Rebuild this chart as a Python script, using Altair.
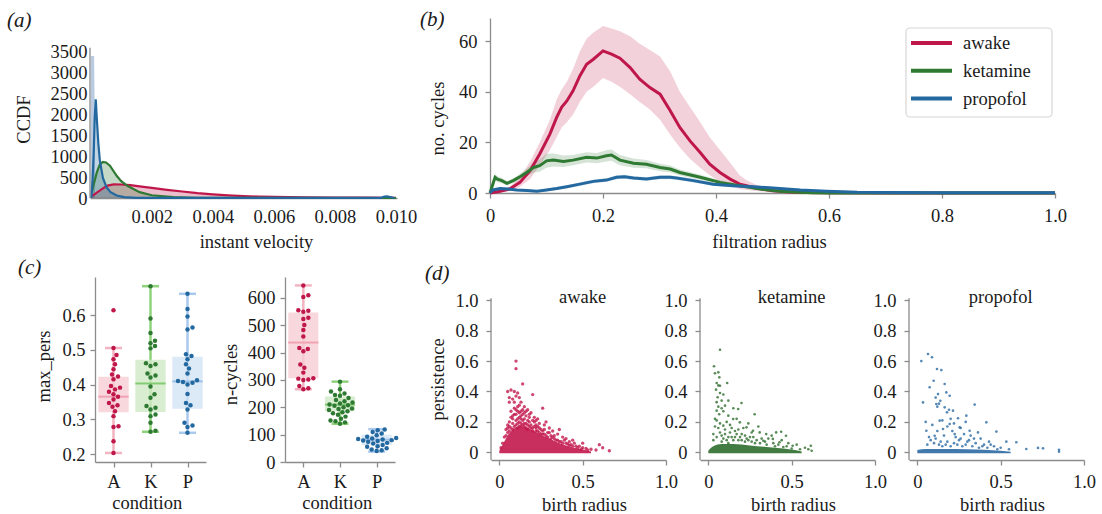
import json
import altair as alt
import pandas as pd

SERIF = "Liberation Serif, Times New Roman, Times, DejaVu Serif, serif"
SERIES = ["awake", "ketamine", "propofol"]
COLORS = ["#c0174b", "#2f7a32", "#2369a0"]
AXC = "#8c8c8c"
TXT = "#1a1a1a"
FS = 18.5

# ---------------- panel (a): instant velocity distributions ----------------
a_red_x = [0.00003, 0.0002, 0.0004, 0.00055, 0.00075, 0.001, 0.0013, 0.0016, 0.002, 0.0025, 0.003,
           0.0035, 0.004, 0.0045, 0.005, 0.0055, 0.006, 0.007, 0.008, 0.009, 0.01]
a_red_y = [40, 130, 230, 295, 325, 322, 305, 278, 240, 195, 155, 115, 85, 62, 45, 34, 25, 16, 10, 7, 5]
a_green_x = [0.00003, 0.0001, 0.0002, 0.0003, 0.0004, 0.0005, 0.00063, 0.00085, 0.001, 0.0012, 0.0016,
             0.002, 0.0027, 0.0035, 0.0045, 0.01]
a_green_y = [130, 330, 610, 800, 860, 845, 770, 530, 400, 290, 140, 65, 20, 6, 2, 0]
a_blue_x = [0.00002, 0.00006, 0.0001, 0.00013, 0.000165, 0.0002, 0.00025, 0.0003, 0.0004, 0.00052,
            0.00065, 0.00085, 0.0011, 0.0015, 0.0095, 0.00962, 0.0097, 0.00978, 0.00995]
a_blue_y = [0, 400, 1120, 1900, 2350, 1900, 1300, 890, 480, 250, 140, 60, 20, 3, 2, 35, 40, 30, 0]
a_spike_x = [0, 0.000004, 0.00011, 0.00014]
a_spike_y = [0, 3380, 3380, 1600]
a_xticks = [0.002, 0.004, 0.006, 0.008, 0.010]
a_yticks = [0, 500, 1000, 1500, 2000, 2500, 3000, 3500]

# ---------------- panel (b): number of cycles vs filtration radius ----------------
b_red_x = [0, 0.018, 0.035, 0.053, 0.071, 0.088, 0.106, 0.118, 0.127, 0.136, 0.147, 0.159, 0.171, 0.183,
           0.2, 0.215, 0.23, 0.248, 0.265, 0.283, 0.301, 0.319, 0.336, 0.354, 0.372, 0.389, 0.407, 0.425,
           0.442, 0.454, 0.47, 0.5, 0.53, 0.56, 0.6, 0.7, 0.8, 0.9, 1.0]
b_red_y = [0, 0.7, 1.6, 4.2, 8.8, 15.4, 23.3, 29.9, 34, 36.4, 40.4, 46.3, 50.9, 52.9, 56.2, 54.9, 53.3,
           49.6, 45, 41.7, 39.1, 32.5, 25.9, 20.6, 16, 11.4, 8.1, 5.5, 3.5, 2.9, 2.0, 0.9, 0.4, 0.15, 0.05,
           0, 0, 0, 0]
b_red_lo = [0, 0.3, 0.8, 2.5, 5.5, 11, 17, 22, 26, 28, 31, 36, 40, 42, 45.5, 44, 42, 39, 36, 33, 29, 23,
            18, 13.5, 10, 7, 4.5, 2.8, 1.6, 1.2, 0.8, 0.3, 0.1, 0, 0, 0, 0, 0, 0]
b_red_hi = [0, 1.2, 2.6, 6.2, 12.5, 20, 29, 37, 41, 44, 49, 56, 61, 63.5, 66, 65, 64, 62, 59, 56.5, 54,
            48, 40, 34, 28, 22, 17, 12, 7, 5, 3.4, 1.6, 0.8, 0.3, 0.1, 0, 0, 0, 0]
b_green_x = [0, 0.009, 0.013, 0.021, 0.03, 0.041, 0.053, 0.065, 0.077, 0.088, 0.1, 0.112, 0.13, 0.147,
             0.171, 0.189, 0.206, 0.215, 0.23, 0.254, 0.277, 0.301, 0.319, 0.336, 0.372, 0.407, 0.442,
             0.478, 0.513, 0.549, 0.57, 0.6, 0.7, 0.8, 0.9, 1.0]
b_green_y = [0, 6.2, 5.5, 4.9, 3.8, 4.9, 6.4, 8.1, 10.1, 10.8, 12.7, 13, 12.5, 13, 14.1, 13.8, 14.7, 15,
             13, 11.8, 11.4, 10.1, 9.5, 8.1, 6.2, 4.2, 2.9, 1.6, 0.7, 0.3, 0.1, 0, 0, 0, 0, 0]
b_green_lo = [0, 5.0, 4.3, 3.9, 3.0, 4.0, 5.3, 6.6, 8.0, 8.4, 10.0, 10.5, 10.3, 11.0, 12.1, 11.8, 12.5,
              12.8, 11.0, 10.0, 9.8, 8.6, 8.1, 6.9, 5.2, 3.4, 2.3, 1.2, 0.5, 0.2, 0.05, 0, 0, 0, 0, 0]
b_green_hi = [0, 7.4, 6.7, 5.9, 4.6, 5.8, 7.5, 9.6, 12.2, 13.2, 15.5, 15.6, 14.8, 15.0, 16.1, 15.8, 16.9,
              17.2, 15.0, 13.6, 13.0, 11.6, 10.9, 9.3, 7.2, 5.0, 3.5, 2.0, 0.9, 0.4, 0.15, 0.05, 0, 0, 0, 0]
b_blue_x = [0, 0.005, 0.018, 0.03, 0.047, 0.065, 0.083, 0.1, 0.118, 0.136, 0.159, 0.183, 0.206, 0.224,
            0.238, 0.254, 0.277, 0.301, 0.319, 0.33, 0.36, 0.395, 0.43, 0.466, 0.507, 0.549, 0.596, 0.65,
            0.7, 0.8, 0.9, 1.0]
b_blue_y = [0, 1.2, 1.8, 1.6, 1.2, 1.0, 0.7, 1.2, 1.8, 2.5, 3.5, 4.6, 5.1, 6.2, 6.4, 5.9, 5.5, 6.2, 6.2,
            5.9, 4.9, 3.5, 2.9, 2.5, 1.9, 1.2, 0.7, 0.3, 0.2, 0.1, 0.1, 0.1]
b_blue_lo = [0, 0.7, 1.2, 1.0, 0.7, 0.5, 0.3, 0.7, 1.2, 1.9, 2.8, 3.9, 4.4, 5.4, 5.6, 5.2, 4.8, 5.4, 5.4,
             5.2, 4.2, 2.9, 2.3, 2.0, 1.5, 0.8, 0.4, 0.1, 0.05, 0, 0, 0]
b_blue_hi = [0, 1.7, 2.4, 2.2, 1.7, 1.5, 1.1, 1.7, 2.4, 3.1, 4.2, 5.3, 5.8, 7.0, 7.2, 6.6, 6.2, 7.0, 7.0,
             6.6, 5.6, 4.1, 3.5, 3.0, 2.3, 1.6, 1.0, 0.5, 0.35, 0.2, 0.2, 0.2]
b_xticks = [0, 0.2, 0.4, 0.6, 0.8, 1.0]
b_yticks = [0, 20, 40, 60]

# ---------------- panel (c): box plots ----------------
c_cond = ["A", "K", "P"]
mp_A = [0.614, 0.505, 0.485, 0.473, 0.458, 0.444, 0.429, 0.423, 0.415, 0.396, 0.391, 0.386, 0.379,
        0.372, 0.365, 0.357, 0.347, 0.34, 0.336, 0.323, 0.309, 0.28, 0.278, 0.237, 0.203]
mp_K = [0.683, 0.59, 0.548, 0.526, 0.519, 0.511, 0.504, 0.461, 0.458, 0.453, 0.432, 0.426, 0.42, 0.394,
        0.372, 0.362, 0.338, 0.333, 0.328, 0.314, 0.309, 0.29, 0.267, 0.264]
mp_P = [0.661, 0.617, 0.596, 0.564, 0.558, 0.487, 0.482, 0.473, 0.458, 0.446, 0.432, 0.412, 0.41, 0.407,
        0.405, 0.4, 0.373, 0.347, 0.34, 0.328, 0.29, 0.282, 0.278, 0.261]
mp_q1 = [0.320, 0.321, 0.330]
mp_med = [0.365, 0.403, 0.409]
mp_q3 = [0.422, 0.471, 0.480]
mp_wlo = [0.203, 0.264, 0.261]
mp_whi = [0.505, 0.683, 0.661]
mp_yticks = [0.2, 0.3, 0.4, 0.5, 0.6]

nc_A = [646, 610, 604, 555, 553, 550, 528, 523, 501, 483, 459, 417, 413, 405, 357, 345, 327, 306, 305,
        302, 300, 278, 270, 266]
nc_K = [294, 266, 258, 251, 245, 242, 234, 227, 222, 218, 214, 210, 208, 206, 200, 196, 194, 190, 186,
        182, 178, 173, 166, 158, 152, 149, 145, 140]
nc_P = [119, 116, 110, 104, 98, 92, 88, 86, 84, 82, 80, 79, 77, 74, 70, 68, 62, 58, 56, 50, 46, 43, 40]
nc_q1 = [306, 186, 62]
nc_med = [437, 210, 82]
nc_q3 = [547, 240, 100]
nc_wlo = [266, 140, 38]
nc_whi = [646, 294, 120]
nc_yticks = [0, 100, 200, 300, 400, 500, 600]

# ---------------- panel (d): persistence diagrams ----------------
d_xticks = [0, 0.5, 1.0]
d_yticks = [0, 0.2, 0.4, 0.6, 0.8, 1.0]
awake_core_x = [0, 0.02, 0.05, 0.08, 0.12, 0.16, 0.2, 0.25, 0.3, 0.35, 0.4, 0.45, 0.5, 0.55]
awake_core_y = [0.012, 0.05, 0.11, 0.15, 0.17, 0.165, 0.145, 0.115, 0.09, 0.065, 0.045, 0.03, 0.018, 0.006]
ket_core_x = [0, 0.03, 0.08, 0.15, 0.25, 0.35, 0.45, 0.52, 0.56]
ket_core_y = [0.012, 0.04, 0.055, 0.055, 0.045, 0.035, 0.025, 0.015, 0.005]
pro_core_x = [0, 0.05, 0.15, 0.3, 0.4, 0.5, 0.56]
pro_core_y = [0.015, 0.022, 0.022, 0.02, 0.016, 0.01, 0.004]

awake_pts = [(0.10, 0.60), (0.10, 0.55), (0.14, 0.45), (0.05, 0.40), (0.07, 0.41), (0.09, 0.40), (0.11, 0.39),
             (0.10, 0.37), (0.12, 0.36), (0.08, 0.35), (0.06, 0.33), (0.13, 0.33), (0.20, 0.38), (0.26, 0.29),
             (0.15, 0.30), (0.17, 0.28), (0.11, 0.30), (0.09, 0.29), (0.07, 0.27), (0.13, 0.27), (0.19, 0.26),
             (0.16, 0.24), (0.21, 0.23), (0.23, 0.22), (0.10, 0.25), (0.12, 0.23), (0.08, 0.22), (0.06, 0.20),
             (0.14, 0.21), (0.18, 0.20), (0.24, 0.19), (0.27, 0.18), (0.30, 0.16), (0.32, 0.14), (0.35, 0.12),
             (0.38, 0.10), (0.40, 0.09), (0.42, 0.07), (0.45, 0.06), (0.48, 0.04), (0.50, 0.03), (0.52, 0.025),
             (0.55, 0.02), (0.58, 0.015), (0.60, 0.05), (0.62, 0.03), (0.66, 0.01), (0.50, 0.06), (0.44, 0.08),
             (0.36, 0.15), (0.28, 0.20), (0.22, 0.18), (0.20, 0.16), (0.25, 0.15), (0.30, 0.13), (0.33, 0.11),
             (0.16, 0.19), (0.12, 0.20), (0.10, 0.21), (0.08, 0.19), (0.04, 0.15), (0.03, 0.10), (0.05, 0.13),
             (0.07, 0.16), (0.13, 0.17), (0.15, 0.17), (0.19, 0.16), (0.22, 0.14), (0.26, 0.12), (0.29, 0.10),
             (0.34, 0.08), (0.37, 0.07), (0.41, 0.055), (0.46, 0.04), (0.02, 0.06), (0.01, 0.03), (0.11, 0.16),
             (0.17, 0.18), (0.14, 0.25), (0.09, 0.33), (0.06, 0.36), (0.12, 0.31), (0.09, 0.25), (0.11, 0.27),
             (0.13, 0.22), (0.15, 0.22), (0.18, 0.23), (0.07, 0.23), (0.05, 0.18), (0.17, 0.21), (0.21, 0.20),
             (0.23, 0.17), (0.27, 0.15), (0.31, 0.11), (0.39, 0.08), (0.43, 0.05),
             (0.05, 0.16), (0.06, 0.14), (0.08, 0.15), (0.09, 0.17), (0.10, 0.18), (0.11, 0.19), (0.12, 0.17),
             (0.13, 0.19), (0.14, 0.18), (0.15, 0.19), (0.16, 0.16), (0.17, 0.15), (0.18, 0.17), (0.19, 0.18),
             (0.20, 0.14), (0.21, 0.17), (0.22, 0.16), (0.23, 0.14), (0.24, 0.13), (0.25, 0.12), (0.26, 0.14),
             (0.27, 0.12), (0.28, 0.11), (0.29, 0.13), (0.31, 0.09), (0.32, 0.10), (0.33, 0.09), (0.35, 0.08),
             (0.36, 0.07), (0.38, 0.06), (0.40, 0.06), (0.42, 0.045), (0.44, 0.04), (0.47, 0.03), (0.49, 0.02),
             (0.53, 0.015), (0.04, 0.11), (0.06, 0.17), (0.08, 0.24), (0.10, 0.28), (0.12, 0.26), (0.14, 0.28),
             (0.16, 0.27), (0.18, 0.25), (0.20, 0.21), (0.22, 0.21), (0.24, 0.16), (0.11, 0.22), (0.13, 0.24),
             (0.15, 0.26)]
ket_pts = [(0.07, 0.675), (0.034, 0.566), (0.06, 0.526), (0.066, 0.493), (0.05, 0.456), (0.07, 0.438),
           (0.046, 0.412), (0.113, 0.456), (0.056, 0.362), (0.08, 0.34), (0.1, 0.307), (0.199, 0.324),
           (0.179, 0.285), (0.278, 0.25), (0.05, 0.274), (0.12, 0.241), (0.149, 0.219), (0.189, 0.197),
           (0.09, 0.175), (0.229, 0.164), (0.268, 0.142), (0.308, 0.131), (0.347, 0.12), (0.407, 0.131),
           (0.437, 0.135), (0.466, 0.109), (0.387, 0.088), (0.33, 0.076), (0.427, 0.066), (0.506, 0.043),
           (0.615, 0.043), (0.6, 0.02), (0.04, 0.52), (0.06, 0.44), (0.07, 0.39), (0.05, 0.33), (0.08, 0.29),
           (0.065, 0.25), (0.04, 0.22), (0.09, 0.27), (0.11, 0.2), (0.13, 0.18), (0.1, 0.15), (0.07, 0.13),
           (0.05, 0.1), (0.16, 0.14), (0.2, 0.12), (0.25, 0.1), (0.14, 0.1), (0.18, 0.08), (0.22, 0.07),
           (0.28, 0.06), (0.35, 0.05), (0.4, 0.04), (0.45, 0.035), (0.5, 0.025), (0.55, 0.02), (0.12, 0.06),
           (0.08, 0.07), (0.03, 0.08), (0.24, 0.19), (0.3, 0.17), (0.15, 0.29), (0.12, 0.34), (0.09, 0.38),
           (0.06, 0.3), (0.17, 0.22), (0.21, 0.16), (0.26, 0.13), (0.32, 0.09), (0.38, 0.11), (0.44, 0.08),
           (0.48, 0.06), (0.53, 0.05), (0.58, 0.03), (0.62, 0.01),
           (0.03, 0.12), (0.04, 0.17), (0.05, 0.21), (0.06, 0.16), (0.07, 0.19), (0.08, 0.11), (0.09, 0.09),
           (0.1, 0.12), (0.11, 0.08), (0.12, 0.1), (0.13, 0.13), (0.14, 0.16), (0.15, 0.08), (0.16, 0.1),
           (0.17, 0.12), (0.18, 0.15), (0.19, 0.1), (0.2, 0.08), (0.22, 0.11), (0.23, 0.09), (0.24, 0.08),
           (0.26, 0.07), (0.27, 0.1), (0.29, 0.08), (0.31, 0.06), (0.34, 0.07), (0.36, 0.09), (0.39, 0.06),
           (0.42, 0.05), (0.47, 0.04)]
pro_pts = [(0.064, 0.647), (0.088, 0.625), (0.024, 0.6), (0.118, 0.548), (0.144, 0.541), (0.098, 0.471),
           (0.074, 0.428), (0.164, 0.449), (0.174, 0.394), (0.124, 0.383), (0.194, 0.372), (0.138, 0.339),
           (0.034, 0.328), (0.114, 0.318), (0.344, 0.314), (0.164, 0.296), (0.214, 0.274), (0.178, 0.263),
           (0.294, 0.241), (0.244, 0.224), (0.134, 0.208), (0.414, 0.197), (0.194, 0.186), (0.254, 0.164),
           (0.154, 0.153), (0.314, 0.142), (0.054, 0.142), (0.364, 0.131), (0.474, 0.136), (0.224, 0.12),
           (0.104, 0.109), (0.534, 0.07), (0.594, 0.066), (0.654, 0.022), (0.724, 0.029), (0.754, 0.026),
           (0.85, 0.017), (0.85, 0.004), (0.12, 0.3), (0.13, 0.32), (0.11, 0.36), (0.15, 0.21), (0.18, 0.17),
           (0.2, 0.22), (0.21, 0.14), (0.23, 0.1), (0.26, 0.09), (0.28, 0.12), (0.3, 0.07), (0.32, 0.11),
           (0.35, 0.06), (0.38, 0.09), (0.4, 0.05), (0.43, 0.07), (0.46, 0.04), (0.5, 0.03), (0.55, 0.02),
           (0.06, 0.05), (0.08, 0.08), (0.1, 0.06), (0.14, 0.07), (0.17, 0.05), (0.2, 0.04), (0.16, 0.11),
           (0.12, 0.14), (0.09, 0.18), (0.24, 0.05), (0.27, 0.04), (0.33, 0.04), (0.37, 0.03), (0.42, 0.03),
           (0.48, 0.02), (0.05, 0.2), (0.07, 0.1), (0.19, 0.28), (0.22, 0.19), (0.26, 0.16), (0.29, 0.2),
           (0.31, 0.08), (0.13, 0.05), (0.18, 0.07), (0.22, 0.06), (0.25, 0.08), (0.29, 0.05), (0.34, 0.09),
           (0.39, 0.04), (0.44, 0.05), (0.15, 0.04), (0.11, 0.09)]


# ---------------- helpers ----------------
def ax(**kw):
    base = dict(grid=False, domainColor=AXC, tickColor=AXC, domainWidth=1.3, tickWidth=1.3,
                labelColor=TXT, titleColor=TXT, labelFont=SERIF, titleFont=SERIF,
                labelFontSize=FS, titleFontSize=FS, titleFontWeight="normal",
                labelFlush=False, labelOverlap=False, titleBaseline="middle")
    base.update(kw)
    return alt.Axis(**base)


ZERO_FMT = "datum.value == 0 ? '0' : format(datum.value, '.1f')"
one = pd.DataFrame({"v": [0]})


def panel_label(txt, x, y):
    return alt.Chart(one).mark_text(text=txt, font=SERIF, fontSize=21, fontStyle="italic",
                                    align="left", baseline="middle", color=TXT).encode(
        x=alt.value(x), y=alt.value(y))


def spacer(w):
    return alt.Chart(one).mark_point(opacity=0).encode(x=alt.value(0), y=alt.value(0)).properties(
        width=w, height=10)


color_scale = alt.Scale(domain=SERIES, range=COLORS)

# ---------------- build panel (a) ----------------
a_df = pd.concat([
    pd.DataFrame({"series": "awake", "x": a_red_x, "y": a_red_y}),
    pd.DataFrame({"series": "ketamine", "x": a_green_x, "y": a_green_y}),
    pd.DataFrame({"series": "propofol", "x": a_blue_x, "y": a_blue_y}),
])
a_spike = pd.DataFrame({"x": a_spike_x, "y": a_spike_y})
A_XS = alt.Scale(domain=[-0.000023, 0.010033], nice=False, zero=False)
A_YS = alt.Scale(domain=[0, 4286], nice=False)
A_XA = ax(values=a_xticks, format=".3f", tickSize=0, labelPadding=9, title="instant velocity",
          titleX=166, titleY=43)
A_YA = ax(values=a_yticks, format="d", tickSize=0, labelPadding=3, domain=False, title="CCDF",
          titleX=-67, titleY=101)


def ax_a(f):
    return alt.X(f, scale=A_XS, axis=A_XA)


def ay_a(f):
    return alt.Y(f, scale=A_YS, axis=A_YA, stack=None)


a_spike_l = alt.Chart(a_spike).mark_area(color="#b5c7df", opacity=0.95).encode(x=ax_a("x:Q"), y=ay_a("y:Q"))
a_fill = alt.Chart(a_df).mark_area(opacity=0.28).encode(
    x=ax_a("x:Q"), y=ay_a("y:Q"), color=alt.Color("series:N", scale=color_scale, legend=None))
a_line = alt.Chart(a_df).mark_line(strokeWidth=2.2).encode(
    x=ax_a("x:Q"), y=ay_a("y:Q"), color=alt.Color("series:N", scale=color_scale, legend=None))
a_rule = alt.Chart(pd.DataFrame({"y0": [0], "y1": [3578]})).mark_rule(color=AXC, strokeWidth=1.3).encode(
    x=alt.value(0), y=ay_a("y0:Q"), y2="y1:Q")
chart_a = alt.layer(a_spike_l, a_fill, a_line, a_rule, panel_label("(a)", -83, 3)).properties(
    width=307, height=180)

# ---------------- build panel (b) ----------------
b_df = pd.concat([
    pd.DataFrame({"series": "awake", "x": b_red_x, "y": b_red_y, "lo": b_red_lo, "hi": b_red_hi}),
    pd.DataFrame({"series": "ketamine", "x": b_green_x, "y": b_green_y, "lo": b_green_lo, "hi": b_green_hi}),
    pd.DataFrame({"series": "propofol", "x": b_blue_x, "y": b_blue_y, "lo": b_blue_lo, "hi": b_blue_hi}),
])
B_XS = alt.Scale(domain=[0, 1], nice=False, zero=False)
B_YS = alt.Scale(domain=[0, 69.2], nice=False)
B_XA = ax(values=b_xticks, labelExpr=ZERO_FMT, tickSize=5, labelPadding=8, title="filtration radius",
          titleX=279, titleY=48)
B_YA = ax(values=b_yticks, tickSize=5, labelPadding=8, title="no. cycles", titleX=-53, titleY=100)
b_band = alt.Chart(b_df).mark_area(opacity=0.2).encode(
    x=alt.X("x:Q", scale=B_XS, axis=B_XA), y=alt.Y("lo:Q", scale=B_YS, axis=B_YA, stack=None), y2="hi:Q",
    color=alt.Color("series:N", scale=color_scale, legend=None))
b_line = alt.Chart(b_df).mark_line(strokeWidth=3).encode(
    x=alt.X("x:Q", scale=B_XS, axis=B_XA), y=alt.Y("y:Q", scale=B_YS, axis=B_YA, stack=None),
    color=alt.Color("series:N", scale=color_scale, legend=None))
b_layers = [b_band, b_line]
b_layers.append(alt.Chart(one).mark_rect(fill="white", stroke="#d6d6d6", strokeWidth=1.2, cornerRadius=4).encode(
    x=alt.value(416), x2=alt.value(562), y=alt.value(10), y2=alt.value(99)))
for i, (s, c) in enumerate(zip(SERIES, COLORS)):
    yy = 25 + 27.8 * i
    b_layers.append(alt.Chart(one).mark_rule(color=c, strokeWidth=4).encode(
        x=alt.value(421), x2=alt.value(462), y=alt.value(yy)))
    b_layers.append(alt.Chart(one).mark_text(text=s, font=SERIF, fontSize=FS, align="left",
                                             baseline="middle", color=TXT).encode(
        x=alt.value(473), y=alt.value(yy)))
b_layers.append(panel_label("(b)", -70, 1.5))
chart_b = alt.layer(*b_layers).properties(width=565, height=175)


# ---------------- build panel (c) ----------------
def swarm_offsets(vals, ppu_y, ppu_x, diam=5.0, step=0.5):
    order = sorted(range(len(vals)), key=lambda i: vals[i])
    cands = [0.0]
    for k in range(1, 80):
        cands += [k * step, -k * step]
    placed = []
    offs = [0.0] * len(vals)
    for i in order:
        yp = vals[i] * ppu_y
        chosen = 0.0
        for cnd in cands:
            if all((cnd - xo) ** 2 + (yp - yo) ** 2 >= diam ** 2 for yo, xo in placed):
                chosen = cnd
                break
        placed.append((yp, chosen))
        offs[i] = chosen / ppu_x
    return offs


BOX_FILL = ["#f6cdd5", "#cfeac6", "#d3e3f5"]
WHISK = ["#f3b3c0", "#8fd27c", "#a9c9ee"]
MEDC = ["#f0a3b3", "#84cc72", "#9cc1ea"]


def box_panel(groups, q1, med, q3, wlo, whi, ydom, yticks, yfmt, ytitle, ttx, tty, width, height, ppu_y,
              label=None):
    ppu_x = width / 3.0
    XS = alt.Scale(domain=[-0.5, 2.5], nice=False, zero=False)
    YS = alt.Scale(domain=ydom, nice=False, zero=False)
    XA = ax(values=[0, 1, 2], labelExpr="{}[datum.value]".format(json.dumps(c_cond)), tickSize=5,
            labelPadding=5, title="condition", titleX=51.7, titleY=40)
    YA = ax(values=yticks, format=yfmt, tickSize=5, labelPadding=5, title=ytitle, titleX=ttx, titleY=tty)

    def X(f):
        return alt.X(f, scale=XS, axis=XA)

    def Y(f):
        return alt.Y(f, scale=YS, axis=YA)

    bdf = pd.DataFrame({"idx": [0, 1, 2], "q1": q1, "med": med, "q3": q3, "wlo": wlo, "whi": whi,
                        "fill": BOX_FILL, "wc": WHISK, "mc": MEDC})
    bdf["bl"] = bdf["idx"] - 0.41
    bdf["br"] = bdf["idx"] + 0.41
    bdf["cl"] = bdf["idx"] - 0.23
    bdf["cr"] = bdf["idx"] + 0.23
    rows = []
    for gi, vals in enumerate(groups):
        offs = swarm_offsets(vals, ppu_y, ppu_x)
        for v, o in zip(vals, offs):
            rows.append({"px": gi + o, "val": v, "col": COLORS[gi]})
    pdf = pd.DataFrame(rows)
    base = alt.Chart(bdf)
    layers = [
        base.mark_rule(strokeWidth=2.5).encode(x=X("idx:Q"), y=Y("wlo:Q"), y2="whi:Q",
                                               color=alt.Color("wc:N", scale=None)),
        base.mark_rule(strokeWidth=2.5).encode(x=X("cl:Q"), x2="cr:Q", y=Y("whi:Q"),
                                               color=alt.Color("wc:N", scale=None)),
        base.mark_rule(strokeWidth=2.5).encode(x=X("cl:Q"), x2="cr:Q", y=Y("wlo:Q"),
                                               color=alt.Color("wc:N", scale=None)),
        base.mark_rect(opacity=0.8).encode(x=X("bl:Q"), x2="br:Q", y=Y("q1:Q"), y2="q3:Q",
                                           color=alt.Color("fill:N", scale=None)),
        base.mark_rule(strokeWidth=2).encode(x=X("bl:Q"), x2="br:Q", y=Y("med:Q"),
                                             color=alt.Color("mc:N", scale=None)),
        alt.Chart(pdf).mark_circle(size=20, opacity=1).encode(x=X("px:Q"), y=Y("val:Q"),
                                                              color=alt.Color("col:N", scale=None)),
    ]
    if label:
        layers.append(label)
    return alt.layer(*layers).properties(width=width, height=height)


chart_c1 = box_panel([mp_A, mp_K, mp_P], mp_q1, mp_med, mp_q3, mp_wlo, mp_whi, [0.177, 0.7094],
                     mp_yticks, ".1f", "max_pers", -52, 89, 111, 185, 347.5,
                     label=panel_label("(c)", -77, -9))
chart_c2 = box_panel([nc_A, nc_K, nc_P], nc_q1, nc_med, nc_q3, nc_wlo, nc_whi, [0, 676.8],
                     nc_yticks, "d", "n-cycles", -55, 97, 110, 185, 0.2733)

# ---------------- build panel (d) ----------------
D_XS = alt.Scale(domain=[-0.05, 1.0], nice=False, zero=False)
D_YS = alt.Scale(domain=[-0.0507, 1.1533], nice=False, zero=False)


def d_panel(name, pts, core_x, core_y, color, first, psize):
    XA = ax(values=d_xticks, labelExpr=ZERO_FMT, tickSize=5, labelPadding=7, title="birth radius",
            titleX=93, titleY=44)
    if first:
        YA = ax(values=d_yticks, labelExpr=ZERO_FMT, tickSize=5, labelPadding=8, domain=False,
                title="persistence", titleX=-54, titleY=102)
    else:
        YA = ax(values=d_yticks, labelExpr=ZERO_FMT, tickSize=5, labelPadding=8, domain=False, title=None)

    def X(f):
        return alt.X(f, scale=D_XS, axis=XA)

    def Y(f):
        return alt.Y(f, scale=D_YS, axis=YA)

    pdf = pd.DataFrame({"x": [p[0] for p in pts], "y": [p[1] for p in pts]})
    cdf = pd.DataFrame({"x": core_x, "y": core_y})
    cdf["base"] = -0.006
    layers = [
        alt.Chart(cdf).mark_area(color=color, opacity=0.9, interpolate="monotone").encode(
            x=X("x:Q"), y=Y("y:Q"), y2="base:Q"),
        alt.Chart(pdf).mark_circle(size=psize, color=color, opacity=0.8).encode(x=X("x:Q"), y=Y("y:Q")),
        alt.Chart(pd.DataFrame({"y0": [-0.0507], "y1": [1.013]})).mark_rule(color=AXC, strokeWidth=1.3).encode(
            x=alt.value(0), y=Y("y0:Q"), y2="y1:Q"),
        alt.Chart(pd.DataFrame({"x": [0.5], "y": [1.02]})).mark_text(
            text=name, font=SERIF, fontSize=FS, align="center", baseline="middle", color=TXT).encode(
            x=X("x:Q"), y=Y("y:Q")),
    ]
    if first:
        layers.append(panel_label("(d)", -66, -3))
    return alt.layer(*layers).properties(width=175, height=183)


d1 = d_panel("awake", awake_pts, awake_core_x, awake_core_y, "#c3184c", True, 11)
d2 = d_panel("ketamine", ket_pts, ket_core_x, ket_core_y, "#2f6e2e", False, 7)
d3 = d_panel("propofol", pro_pts, pro_core_x, pro_core_y, "#2c6aa3", False, 7)

row1 = alt.hconcat(chart_a, spacer(93), chart_b, spacing=0, bounds="flush")
row2 = alt.hconcat(spacer(5), chart_c1, spacer(79), chart_c2, spacer(96), d1, spacer(34), d2, spacer(34), d3,
                   spacing=0, bounds="flush")

chart = alt.vconcat(row1, row2, spacing=6).properties(
    padding={"left": 7, "top": 8, "right": 2, "bottom": 0}, background="white"
).configure(font=SERIF).configure_view(stroke=None)

chart.save("out.html", embed_options={"renderer": "svg", "actions": False})
